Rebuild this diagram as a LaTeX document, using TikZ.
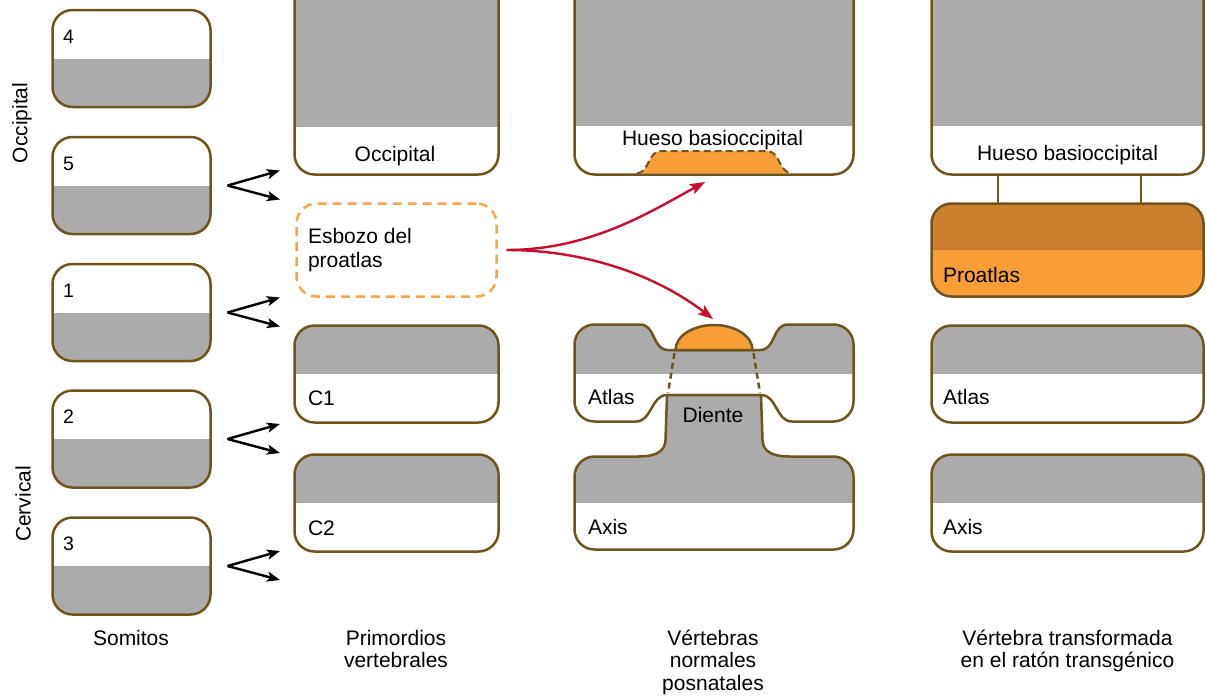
\documentclass[tikz,border=0pt]{standalone}
\usepackage{fontspec}
\setmainfont{Liberation Sans}
\usetikzlibrary{arrows.meta}
\definecolor{brn}{HTML}{705420}
\definecolor{gry}{HTML}{ABABAB}
\definecolor{org}{HTML}{F89E36}
\definecolor{dorg}{HTML}{CC7F2E}
\definecolor{orgdash}{HTML}{F6A747}
\definecolor{arrred}{HTML}{C8102E}
\newcommand{\mlc}[1]{\begin{tabular}[t]{@{}c@{}}#1\end{tabular}}
\newcommand{\mll}[1]{{\renewcommand\arraystretch{1.067}\begin{tabular}[t]{@{}l@{}}#1\end{tabular}}}
\begin{document}
\begin{tikzpicture}[x=1pt,y=-1pt,
  font=\fontsize{21}{22.5}\selectfont,
  every node/.style={inner sep=0pt, outer sep=0pt},
  bx/.style={draw=brn, line width=2.5pt, rounded corners=20pt, fill=white},
  somite/.style={bx, minimum width=158pt, minimum height=97pt,
     path picture={\fill[gry, sharp corners] (path picture bounding box.west) rectangle (path picture bounding box.south east);}},
  prim/.style={bx, minimum width=204pt, minimum height=97pt,
     path picture={\fill[gry, sharp corners] (path picture bounding box.north west) rectangle (path picture bounding box.east);}},
  trans/.style={bx, minimum width=272pt, minimum height=97pt,
     path picture={\fill[gry, sharp corners] (path picture bounding box.north west) rectangle (path picture bounding box.east);}},
  numf/.style={font=\fontsize{19.5}{20}\selectfont, anchor=base west},
  lbl/.style={anchor=base west},
  blk/.style={-{Stealth[length=13pt,width=10pt,inset=3pt]}, line width=2.4pt, black},
  redarr/.style={-{Stealth[length=15pt,width=11pt,inset=3pt]}, line width=2.4pt, arrred},
  outl/.style={draw=brn, line width=2.5pt},
  dashln/.style={brn, line width=2.5pt, dash pattern=on 6pt off 4pt},
  link/.style={brn, line width=2.5pt}]
\useasboundingbox (0,0) rectangle (1206,699);
\fill[white] (0,0) rectangle (1206,699);
\clip (0,0) rectangle (1206,699);

% ---------- somites ----------
\node[somite] (s4) at (131.5,58.5) {};
\node[somite] (s5) at (131.5,185.5) {};
\node[somite] (s1) at (131.5,312.5) {};
\node[somite] (s2) at (131.5,439) {};
\node[somite] (s3) at (131.5,566) {};
\node[numf] (n4) at (63,43) {4};
\node[numf] (n5) at (63,170) {5};
\node[numf] (n1) at (63,297) {1};
\node[numf] (n2) at (63,423.5) {2};
\node[numf] (n3) at (63,550.5) {3};
\node[rotate=90] (occl) at (22,123) {Occipital};
\node[rotate=90] (cerl) at (23,504) {Cervical};

% arrows from somites
\foreach \s/\yc in {s5/185.5, s1/312.5, s2/439, s3/566}{
  \coordinate (v\s) at ([xshift=17pt]\s.east);
  \coordinate (ta\s) at (280,\yc-15);
  \coordinate (tb\s) at (280,\yc+14);
  \draw[blk] (v\s) -- (ta\s);
  \draw[blk] (v\s) -- (tb\s);
}

% ---------- column 2 ----------
\node[bx, minimum width=204pt, minimum height=204.5pt,
  path picture={\fill[gry, sharp corners] (path picture bounding box.north west) rectangle ([yshift=47.5pt]path picture bounding box.south east);}]
  (occ2) at (396.5,72.25) {};
\node[anchor=base] (occ2t) at (395,161) {Occipital};
\node[draw=orgdash, line width=2.5pt, dash pattern=on 9pt off 6pt, rounded corners=20pt,
  minimum width=200pt, minimum height=93pt] (esb) at (396.5,250) {};
\node[anchor=base west] (esbt) at (308,243) {\mll{Esbozo del\\proatlas}};
\node[prim] (c1) at (396.5,374) {};
\node[prim] (c2) at (396.5,503) {};
\node[lbl] (c1t) at (308,405) {C1};
\node[lbl] (c2t) at (308,535) {C2};

% ---------- column 3 ----------
\node[bx, minimum width=279pt, minimum height=204.5pt,
  path picture={\fill[gry, sharp corners] (path picture bounding box.north west) rectangle ([yshift=48.5pt]path picture bounding box.south east);}]
  (occ3) at (714,72.25) {};
\fill[org] (637,173.2) .. controls (649,173.2) and (648,151) .. (661,151) -- (767,151)
   .. controls (780,151) and (779,173.2) .. (792,173.2) -- cycle;
\draw[brn, line width=2pt, dash pattern=on 7pt off 4pt] (637,173.2) .. controls (649,173.2) and (648,151) .. (661,151) -- (767,151)
   .. controls (780,151) and (779,173.2) .. (792,173.2);
\node[anchor=base] (occ3t) at (712.5,145) {Hueso basioccipital};

% atlas
\def\atlaspath{(574.5,374) -- (574.5,344.5) .. controls (574.5,333.5) and (583.5,324.5) .. (594.5,324.5)
  -- (640,324.5) .. controls (656,324.5) and (652,350) .. (668,350) -- (760,350)
  .. controls (776,350) and (772,324.5) .. (788,324.5) -- (833.5,324.5)
  .. controls (844.5,324.5) and (853.5,333.5) .. (853.5,344.5) -- (853.5,401.5)
  .. controls (853.5,412.5) and (844.5,421.5) .. (833.5,421.5) -- (792,421.5)
  .. controls (776,421.5) and (777,395) .. (761,395) -- (667,395)
  .. controls (651,395) and (652,421.5) .. (636,421.5) -- (594.5,421.5)
  .. controls (583.5,421.5) and (574.5,412.5) .. (574.5,401.5) -- cycle}
\fill[white] \atlaspath;
\begin{scope}
  \clip \atlaspath;
  \fill[gry] (560,300) rectangle (870,374);
\end{scope}
\draw[outl, line join=round] \atlaspath;

% axis + diente
\def\axispath{(574.5,503) -- (574.5,476.5) .. controls (574.5,465.5) and (583.5,456.5) .. (594.5,456.5)
  -- (638,456.5) .. controls (655,456.5) and (665,452) .. (665.5,440) -- (667,395) -- (761,395)
  -- (762.5,440) .. controls (763,452) and (773,456.5) .. (790,456.5) -- (833.5,456.5)
  .. controls (844.5,456.5) and (853.5,465.5) .. (853.5,476.5) -- (853.5,529.5)
  .. controls (853.5,540.5) and (844.5,549.5) .. (833.5,549.5) -- (594.5,549.5)
  .. controls (583.5,549.5) and (574.5,540.5) .. (574.5,529.5) -- cycle}
\fill[white] \axispath;
\begin{scope}
  \clip \axispath;
  \fill[gry] (560,380) rectangle (870,503);
\end{scope}
\draw[outl, line join=round] \axispath;

% dome (dens tip)
\draw[outl, fill=org] (675.5,350) arc[start angle=180, end angle=0, x radius=38.5pt, y radius=25pt] -- cycle;
\draw[dashln] (674.5,353) -- (668,393);
\draw[dashln] (753.5,353) -- (760,393);

\node[lbl] (atl3t) at (588,404) {Atlas};
\node[anchor=base] (dient) at (713,422) {Diente};
\node[lbl] (axi3t) at (588,534) {Axis};

% red arrows
\coordinate (rs) at ([xshift=10pt]esb.east);
\coordinate (rup) at (705,182);
\coordinate (rdn) at (713,319);
\draw[redarr] (rs) .. controls (590,250) and (650,212) .. (rup);
\draw[redarr] (rs) .. controls (590,250) and (660,278) .. (rdn);

% ---------- column 4 ----------
\node[bx, minimum width=272pt, minimum height=204.5pt,
  path picture={\fill[gry, sharp corners] (path picture bounding box.north west) rectangle ([yshift=48.5pt]path picture bounding box.south east);}]
  (occ4) at (1067.5,72.25) {};
\node[anchor=base] (occ4t) at (1067.5,160) {Hueso basioccipital};
\node[bx, fill=org, minimum width=272pt, minimum height=93pt,
  path picture={\fill[dorg, sharp corners] (path picture bounding box.north west) rectangle (path picture bounding box.east);}]
  (pro4) at (1067.5,250) {};
\node[lbl] (pro4t) at (943,282) {Proatlas};
\draw[link] ([xshift=-69.5pt]occ4.south) -- ([xshift=-69.5pt]pro4.north);
\draw[link] ([xshift=73.5pt]occ4.south) -- ([xshift=73.5pt]pro4.north);
\node[trans] (atl4) at (1067.5,374) {};
\node[trans] (axi4) at (1067.5,503) {};
\node[lbl] (atl4t) at (943,404) {Atlas};
\node[lbl] (axi4t) at (943,534) {Axis};

% ---------- column labels ----------
\node[anchor=base] (lsom) at (131,645) {Somitos};
\node[anchor=base] (lpri) at (396,645) {\mlc{Primordios\\vertebrales}};
\node[anchor=base] (lver) at (713,645) {\mlc{Vértebras\\normales\\posnatales}};
\node[anchor=base] (ltra) at (1067.5,645) {\mlc{Vértebra transformada\\en el ratón transgénico}};
\end{tikzpicture}
\end{document}
